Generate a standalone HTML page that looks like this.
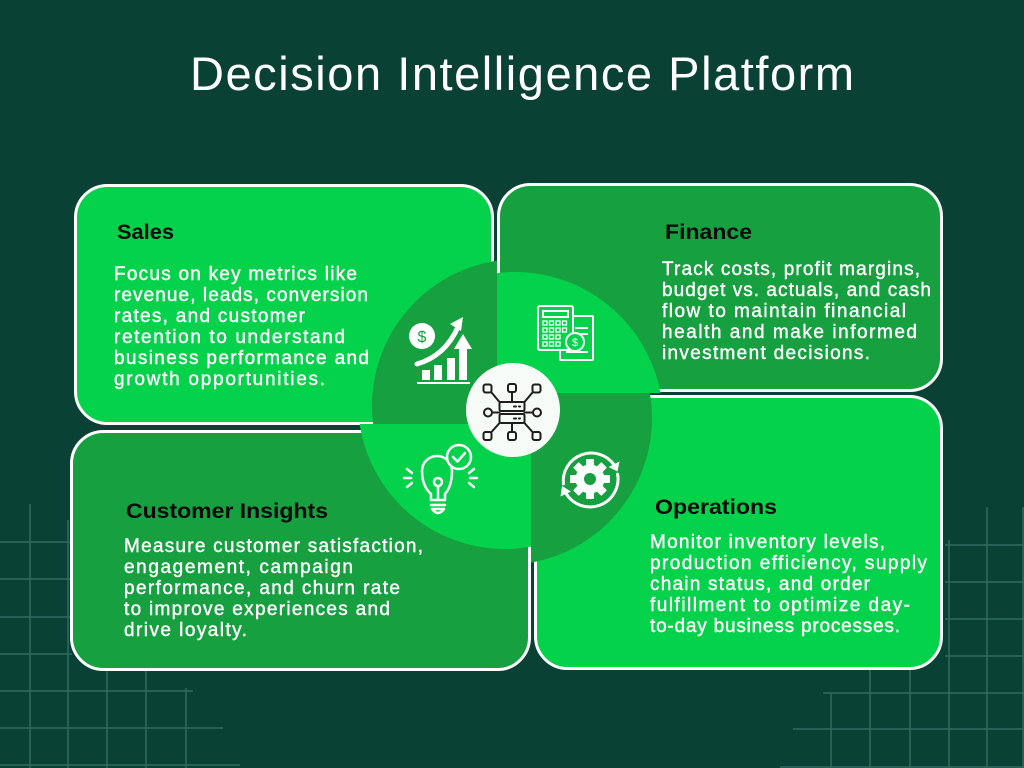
<!DOCTYPE html>
<html>
<head>
<meta charset="utf-8">
<style>
html,body{margin:0;padding:0;background:#0a4135;}
svg{display:block;}
.t{font-family:"Liberation Sans",sans-serif;}
.b{font-family:"Liberation Sans",sans-serif;font-size:19px;fill:#ffffff;stroke:#ffffff;stroke-width:0.4px;}
.h{font-family:"Liberation Sans",sans-serif;font-size:21px;font-weight:bold;fill:#0a0a0a;}
</style>
</head>
<body>
<svg width="1024" height="768" viewBox="0 0 1024 768" xmlns="http://www.w3.org/2000/svg">
  <rect x="0" y="0" width="1024" height="768" fill="#0a4135"/>

  <!-- grid bottom-left -->
  <g stroke="#2e6c5e" stroke-width="1.5" fill="none">
    <line x1="30" y1="504" x2="30" y2="768"/>
    <line x1="68" y1="520" x2="68" y2="768"/>
    <line x1="107" y1="660" x2="107" y2="768"/>
    <line x1="146" y1="660" x2="146" y2="768"/>
    <line x1="186" y1="688" x2="186" y2="768"/>
    <line x1="0" y1="542" x2="72" y2="542"/>
    <line x1="0" y1="579" x2="72" y2="579"/>
    <line x1="0" y1="617" x2="72" y2="617"/>
    <line x1="0" y1="654" x2="72" y2="654"/>
    <line x1="0" y1="691" x2="193" y2="691"/>
    <line x1="0" y1="728" x2="223" y2="728"/>
    <line x1="0" y1="765" x2="240" y2="765"/>
  </g>
  <!-- grid bottom-right -->
  <g stroke="#2e6c5e" stroke-width="1.5" fill="none">
    <line x1="987" y1="507" x2="987" y2="768"/>
    <line x1="1023" y1="507" x2="1023" y2="768"/>
    <line x1="949" y1="540" x2="949" y2="768"/>
    <line x1="910" y1="660" x2="910" y2="768"/>
    <line x1="870" y1="660" x2="870" y2="768"/>
    <line x1="831" y1="694" x2="831" y2="768"/>
    <line x1="945" y1="545" x2="1024" y2="545"/>
    <line x1="945" y1="582" x2="1024" y2="582"/>
    <line x1="945" y1="619" x2="1024" y2="619"/>
    <line x1="945" y1="656" x2="1024" y2="656"/>
    <line x1="823" y1="693" x2="1024" y2="693"/>
    <line x1="793" y1="729" x2="1024" y2="729"/>
    <line x1="780" y1="767" x2="1024" y2="767"/>
  </g>

  <!-- title -->
  <text class="t" x="190" y="90" font-size="47" fill="#ffffff" textLength="664" lengthAdjust="spacing">Decision Intelligence Platform</text>

  <!-- boxes -->
  <rect x="75.5" y="185.5" width="417" height="238" rx="32" fill="#04d24a" stroke="#ffffff" stroke-width="3"/>
  <rect x="498.5" y="184.5" width="443" height="206" rx="32" fill="#16a040" stroke="#ffffff" stroke-width="3"/>
  <rect x="71.5" y="431.5" width="458" height="238" rx="32" fill="#16a040" stroke="#ffffff" stroke-width="3"/>
  <rect x="535.5" y="396.5" width="406" height="272" rx="32" fill="#04d24a" stroke="#ffffff" stroke-width="3"/>

  <!-- quadrant clips -->
  <defs>
    <clipPath id="cTL"><rect x="300" y="200" width="197" height="224"/></clipPath>
    <clipPath id="cTR"><rect x="497" y="200" width="220" height="193"/></clipPath>
    <clipPath id="cBL"><rect x="300" y="424" width="231" height="200"/></clipPath>
    <clipPath id="cBR"><rect x="531" y="393" width="200" height="230"/></clipPath>
  </defs>
  <circle cx="519" cy="406" r="147" fill="#16a040" clip-path="url(#cTL)"/>
  <circle cx="515" cy="420" r="148" fill="#04d24a" clip-path="url(#cTR)"/>
  <circle cx="505" cy="402" r="147" fill="#04d24a" clip-path="url(#cBL)"/>
  <circle cx="505" cy="418" r="147" fill="#16a040" clip-path="url(#cBR)"/>

  <!-- center circle -->
  <circle cx="513" cy="410" r="47" fill="#f7fbf7"/>

  <!-- center network icon -->
  <g stroke="#1e1e1e" stroke-width="2" fill="none" stroke-linecap="round">
    <rect x="499.5" y="402" width="25" height="9" rx="1.5"/>
    <rect x="499.5" y="414" width="25" height="9" rx="1.5"/>
    <line x1="514" y1="406.5" x2="516" y2="406.5"/>
    <line x1="519" y1="406.5" x2="520" y2="406.5"/>
    <line x1="514" y1="418.5" x2="516" y2="418.5"/>
    <line x1="519" y1="418.5" x2="520" y2="418.5"/>
    <rect x="483.5" y="384.5" width="8" height="8" rx="2"/>
    <rect x="508" y="384" width="8" height="8" rx="2"/>
    <rect x="532.5" y="384.5" width="8" height="8" rx="2"/>
    <line x1="491.5" y1="392.5" x2="499.5" y2="402"/>
    <line x1="512" y1="392" x2="512" y2="402"/>
    <line x1="532.5" y1="392.5" x2="524.5" y2="402"/>
    <circle cx="488" cy="412.5" r="4"/>
    <circle cx="537" cy="412.5" r="4"/>
    <line x1="492" y1="412.5" x2="499.5" y2="412.5"/>
    <line x1="524.5" y1="412.5" x2="533" y2="412.5"/>
    <rect x="483.5" y="432" width="8" height="8" rx="2"/>
    <rect x="508" y="432" width="8" height="8" rx="2"/>
    <rect x="532.5" y="432" width="8" height="8" rx="2"/>
    <line x1="499.5" y1="423" x2="491.5" y2="432"/>
    <line x1="512" y1="423" x2="512" y2="432"/>
    <line x1="524.5" y1="423" x2="532.5" y2="432"/>
  </g>

  <!-- sales icon -->
  <g fill="#ffffff">
    <circle cx="422" cy="336" r="13"/>
    <text x="422" y="342" font-family="Liberation Sans, sans-serif" font-size="16" fill="#16a040" text-anchor="middle">$</text>
    <path d="M417 364 Q445 356 458 327" stroke="#ffffff" stroke-width="5" fill="none" stroke-linecap="round"/>
    <polygon points="450,324 463,317 461,331"/>
    <rect x="422" y="370" width="8" height="10"/>
    <rect x="434" y="365" width="8" height="15"/>
    <rect x="447" y="358" width="8" height="22"/>
    <rect x="459" y="348" width="8" height="32"/>
    <polygon points="454,349 463,334 472,349"/>
    <rect x="417" y="382" width="53" height="2"/>
  </g>

  <!-- finance icon -->
  <g stroke="#ffffff" stroke-width="2" fill="none">
    <rect x="560" y="316" width="33" height="44" rx="1" fill="#04d24a"/>
    <line x1="575" y1="328" x2="588" y2="328"/>
    <line x1="575" y1="334" x2="588" y2="334"/>
    <line x1="566" y1="352" x2="588" y2="352"/>
    <rect x="538" y="306" width="35" height="44" rx="2" fill="#04d24a"/>
    <rect x="543" y="311" width="25" height="6"/>
    <g stroke-width="1.3">
      <rect x="543" y="321" width="4" height="4"/><rect x="549.5" y="321" width="4" height="4"/><rect x="556" y="321" width="4" height="4"/><rect x="562.5" y="321" width="4" height="4"/>
      <rect x="543" y="328" width="4" height="4"/><rect x="549.5" y="328" width="4" height="4"/><rect x="556" y="328" width="4" height="4"/><rect x="562.5" y="328" width="4" height="4"/>
      <rect x="543" y="335" width="4" height="4"/><rect x="549.5" y="335" width="4" height="4"/><rect x="556" y="335" width="4" height="4"/>
      <rect x="543" y="342" width="4" height="4"/><rect x="549.5" y="342" width="4" height="4"/><rect x="556" y="342" width="4" height="4"/>
    </g>
    <circle cx="575" cy="342" r="9" fill="#04d24a"/>
  </g>
  <text x="575" y="346" font-family="Liberation Sans, sans-serif" font-size="11" fill="#ffffff" text-anchor="middle">$</text>

  <!-- lightbulb icon -->
  <g stroke="#ffffff" stroke-width="2.5" fill="none" stroke-linecap="round" stroke-linejoin="round">
    <path d="M431 500 L431 494 Q422 486 422 471 A15 15 0 0 1 452 471 Q452 486 445 494 L445 500 Z"/>
    <line x1="431" y1="505" x2="445" y2="505"/>
    <path d="M432 509 L444 509 Q441 513 438 513 Q435 513 432 509"/>
    <circle cx="438" cy="482" r="4"/>
    <line x1="438" y1="486" x2="438" y2="499"/>
    <circle cx="459" cy="457" r="12" fill="#04d24a"/>
    <path d="M453 457 L457.5 461.5 L465 453"/>
    <line x1="407" y1="469" x2="412" y2="473"/>
    <line x1="404" y1="478" x2="411" y2="478"/>
    <line x1="407" y1="487" x2="412" y2="483"/>
    <line x1="469" y1="473" x2="474" y2="469"/>
    <line x1="470" y1="478" x2="477" y2="478"/>
    <line x1="469" y1="483" x2="474" y2="487"/>
  </g>

  <!-- gear icon -->
  <g fill="#ffffff">
    <g transform="translate(590,479)">
      <rect x="-4" y="-20" width="8" height="9" rx="1"/>
      <rect x="-4" y="-20" width="8" height="9" rx="1" transform="rotate(45)"/>
      <rect x="-4" y="-20" width="8" height="9" rx="1" transform="rotate(90)"/>
      <rect x="-4" y="-20" width="8" height="9" rx="1" transform="rotate(135)"/>
      <rect x="-4" y="-20" width="8" height="9" rx="1" transform="rotate(180)"/>
      <rect x="-4" y="-20" width="8" height="9" rx="1" transform="rotate(225)"/>
      <rect x="-4" y="-20" width="8" height="9" rx="1" transform="rotate(270)"/>
      <rect x="-4" y="-20" width="8" height="9" rx="1" transform="rotate(315)"/>
      <circle cx="0" cy="0" r="14.5"/>
      <circle cx="0" cy="0" r="6" fill="#16a040"/>
    </g>
    <path d="M563.4 483.9 A28 28 0 0 1 614.2 465" stroke="#ffffff" stroke-width="3" fill="none" stroke-linecap="round"/>
    <path d="M617.6 474.1 A28 28 0 0 1 565.8 493" stroke="#ffffff" stroke-width="3" fill="none" stroke-linecap="round"/>
    <polygon points="619.5,461.5 617.5,471.5 608.5,467"/>
    <polygon points="560.5,496.5 562,486 571,491.5"/>
  </g>

  <!-- Sales text -->
  <text class="h" x="117" y="239" textLength="57" lengthAdjust="spacingAndGlyphs">Sales</text>
  <text class="b" x="114" y="280" textLength="243" lengthAdjust="spacing">Focus on key metrics like</text>
  <text class="b" x="114" y="301" textLength="254" lengthAdjust="spacing">revenue, leads, conversion</text>
  <text class="b" x="114" y="322" textLength="191" lengthAdjust="spacing">rates, and customer</text>
  <text class="b" x="114" y="343" textLength="231" lengthAdjust="spacing">retention to understand</text>
  <text class="b" x="114" y="364" textLength="255" lengthAdjust="spacing">business performance and</text>
  <text class="b" x="114" y="385" textLength="211" lengthAdjust="spacing">growth opportunities.</text>

  <!-- Finance text -->
  <text class="h" x="665" y="239" textLength="87" lengthAdjust="spacingAndGlyphs">Finance</text>
  <text class="b" x="662" y="275" textLength="258" lengthAdjust="spacing">Track costs, profit margins,</text>
  <text class="b" x="662" y="296" textLength="269" lengthAdjust="spacing">budget vs. actuals, and cash</text>
  <text class="b" x="662" y="317" textLength="244" lengthAdjust="spacing">flow to maintain financial</text>
  <text class="b" x="662" y="338" textLength="255" lengthAdjust="spacing">health and make informed</text>
  <text class="b" x="662" y="359" textLength="208" lengthAdjust="spacing">investment decisions.</text>

  <!-- Customer Insights text -->
  <text class="h" x="126" y="518" textLength="202" lengthAdjust="spacingAndGlyphs">Customer Insights</text>
  <text class="b" x="124" y="552" textLength="299" lengthAdjust="spacing">Measure customer satisfaction,</text>
  <text class="b" x="124" y="573" textLength="229" lengthAdjust="spacing">engagement, campaign</text>
  <text class="b" x="124" y="594" textLength="276" lengthAdjust="spacing">performance, and churn rate</text>
  <text class="b" x="124" y="615" textLength="266" lengthAdjust="spacing">to improve experiences and</text>
  <text class="b" x="124" y="636" textLength="123" lengthAdjust="spacing">drive loyalty.</text>

  <!-- Operations text -->
  <text class="h" x="655" y="514" textLength="122" lengthAdjust="spacingAndGlyphs">Operations</text>
  <text class="b" x="650" y="548" textLength="235" lengthAdjust="spacing">Monitor inventory levels,</text>
  <text class="b" x="650" y="569" textLength="277" lengthAdjust="spacing">production efficiency, supply</text>
  <text class="b" x="650" y="590" textLength="220" lengthAdjust="spacing">chain status, and order</text>
  <text class="b" x="650" y="611" textLength="260" lengthAdjust="spacing">fulfillment to optimize day-</text>
  <text class="b" x="650" y="632" textLength="250" lengthAdjust="spacing">to-day business processes.</text>
</svg>
</body>
</html>
